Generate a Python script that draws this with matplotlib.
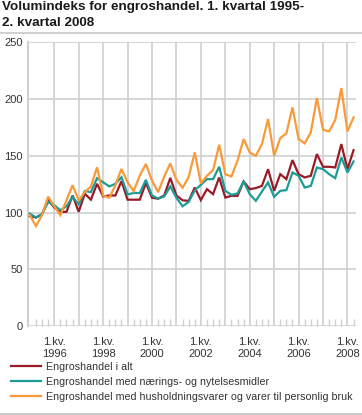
## Volumindeks for engroshandel, kvartalstall 1995-2008 ##

import numpy as np
import matplotlib
matplotlib.use("Agg")
from matplotlib import pyplot as plt
from matplotlib.lines import Line2D

plt.rcParams['font.family'] = ['Liberation Sans', 'DejaVu Sans']

# Quarters from 1. kv. 1995 to 2. kv. 2008 (54 values per series)
first_year = 1995
n_quarters = 54

# Values
total = [96.8, 95.6, 98.5, 111.3, 104.4, 100.6, 100.6, 115.0, 100.6, 116.6,
         111.3, 125.3, 114.2, 115.0, 115.0, 127.6, 111.3, 111.3, 111.3, 125.9,
         113.0, 112.2, 115.0, 130.5, 115.0, 110.8, 110.2, 122.0, 110.9, 120.6,
         116.2, 130.9, 113.2, 114.7, 114.7, 127.4, 120.6, 121.5, 123.5, 138.2,
         119.1, 133.8, 129.4, 146.2, 133.8, 130.9, 132.4, 151.5, 140.3, 140.3,
         139.7, 160.3, 138.2, 155.0]
food = [99.0, 95.6, 98.5, 109.3, 106.4, 102.0, 105.5, 113.7, 107.3, 118.9,
        118.0, 130.2, 126.7, 123.0, 125.3, 131.1, 116.0, 117.2, 117.2, 128.8,
        115.0, 112.2, 114.2, 123.0, 113.0, 105.5, 109.3, 119.5, 124.4, 129.4,
        129.4, 140.3, 119.1, 115.6, 116.8, 127.4, 116.2, 110.3, 118.5, 126.5,
        113.8, 119.1, 119.7, 135.3, 132.4, 122.0, 123.5, 139.7, 138.2, 133.8,
        130.3, 148.5, 135.3, 145.0]
household = [97.7, 88.0, 97.7, 114.0, 105.5, 97.7, 110.8, 124.0, 110.8, 118.0,
             123.0, 139.8, 115.0, 113.0, 123.8, 138.4, 126.7, 118.9, 132.6, 142.7,
             128.2, 118.0, 131.7, 143.3, 128.8, 121.8, 131.1, 153.0, 125.6, 132.4,
             137.4, 159.7, 133.8, 131.8, 145.6, 164.7, 152.9, 150.0, 160.3, 182.4,
             150.0, 165.6, 169.7, 192.6, 164.7, 160.9, 170.6, 200.9, 172.9, 171.5,
             181.5, 209.7, 171.5, 183.8]

series_names = ["Engroshandel i alt",
                "Engroshandel med nærings- og nytelsesmidler",
                "Engroshandel med husholdningsvarer og varer til personlig bruk"]
series_colors = ["#9a1b26", "#1b9c97", "#f99a3a"]

yticks = [0, 50, 100, 150, 200, 250]
label_years = [1996, 1998, 2000, 2002, 2004, 2006, 2008]

grid_col = "#d0d0d0"
text_col = "#333333"

fig = plt.figure(figsize=(3.62, 4.15), dpi=100)
ax = fig.add_axes([28 / 362, 1 - 326 / 415, (356 - 28) / 362, (326 - 42.3) / 415])

x = np.arange(n_quarters)
for vals, name, col in zip([total, food, household], series_names, series_colors):
    ax.plot(x, vals, color=col, lw=1.6, label=name, zorder=3, solid_joinstyle='miter')

# axes, grid and ticks
ax.set_xlim(-0.3, 53.4)
ax.set_ylim(0, 250)
ax.set_yticks(yticks)
year_pos = [4 * k for k in range(1, 14)]
ax.set_xticks(year_pos)
ax.set_xticklabels(["1.kv.\n%d" % (first_year + k) if (first_year + k) in label_years else ""
                    for k in range(1, 14)])
ax.set_xticks([i for i in range(1, n_quarters) if i % 4 != 0], minor=True)
ax.grid(True, which='major', color=grid_col, lw=1.2, zorder=0)
ax.tick_params(axis='y', length=0, pad=4, labelsize=8, labelcolor=text_col)
ax.tick_params(axis='x', which='major', length=0, pad=8, labelsize=8, labelcolor=text_col)
ax.tick_params(axis='x', which='minor', direction='in', length=5, width=1, color=grid_col)
for lab in ax.get_xticklabels():
    lab.set_linespacing(1.2)
for s in ['top', 'right', 'bottom']:
    ax.spines[s].set_visible(False)
ax.spines['left'].set_color(grid_col)
ax.spines['left'].set_linewidth(1.5)

# title and separator lines
fig.text(2 / 362, 1 - 1 / 415, "Volumindeks for engroshandel. 1. kvartal 1995-\n2. kvartal 2008",
         fontsize=9.7, fontweight='bold', color="#1a1a1a", va='top', ha='left', linespacing=1.45)
fig.add_artist(Line2D([0, 1], [1 - 33 / 415] * 2, color="#c8c8c8", lw=1.2))
fig.add_artist(Line2D([0, 1], [1 - 414 / 415] * 2, color="#c8c8c8", lw=2))

# legend
fig.legend(loc='upper left', bbox_to_anchor=(11 / 362, 1 - 362 / 415), frameon=False,
           fontsize=7.7, handlelength=2.8, handletextpad=0.5, labelspacing=0.45,
           borderpad=0, borderaxespad=0, labelcolor=text_col)

fig.savefig("out.png", dpi=100)
